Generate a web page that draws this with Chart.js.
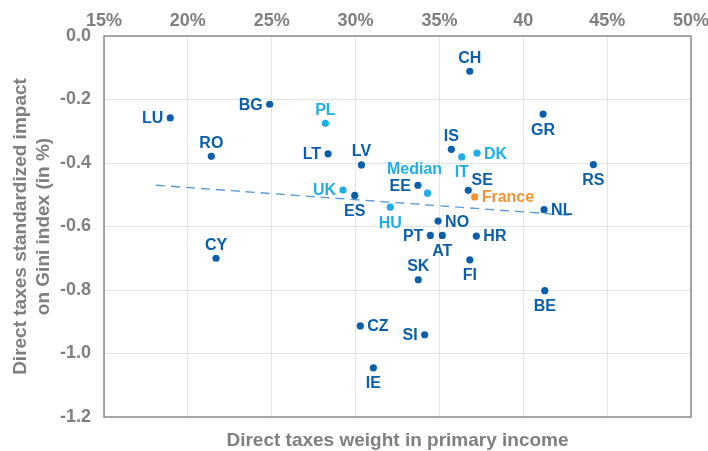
<!DOCTYPE html>
<html>
<head>
<meta charset="utf-8">
<script src="https://cdn.jsdelivr.net/npm/chart.js@4/dist/chart.umd.min.js"></script>
<style>
  html, body { margin: 0; padding: 0; background: #fff; }
  #wrap { width: 708px; height: 451px; }
</style>
</head>
<body>
<div id="wrap"><canvas id="myChart"></canvas></div>
<script>

const countries  = ['LU', 'BG', 'PL', 'RO', 'LT', 'LV', 'UK', 'ES', 'HU', 'CH', 'GR', 'IS', 'IT', 'DK', 'RS',
                    'EE', 'Median', 'SE', 'France', 'NL', 'NO', 'PT', 'AT', 'HR', 'FI', 'SK', 'BE', 'SI', 'CY', 'CZ', 'IE'];
const taxWeight  = [18.95, 24.88, 28.2, 21.4, 28.36, 30.35, 29.25, 29.95, 32.07, 36.81, 41.18, 35.71, 36.33, 37.24, 44.18,
                    33.72, 34.29, 36.72, 37.1, 41.24, 34.92, 34.46, 35.17, 37.2, 36.81, 33.74, 41.28, 34.12, 21.68, 30.28, 31.06];
const giniImpact = [-0.258, -0.215, -0.275, -0.379, -0.371, -0.406, -0.485, -0.502, -0.539, -0.111, -0.246, -0.357, -0.381, -0.369, -0.405,
                    -0.470, -0.495, -0.486, -0.507, -0.547, -0.583, -0.628, -0.628, -0.630, -0.705, -0.768, -0.802, -0.941, -0.700, -0.913, -1.045];
const highlighted = ['PL', 'UK', 'HU', 'IT', 'DK', 'Median'];
const trendX = [18.1, 42.9];
const trendY = [-0.470, -0.565];
const xTickLabels = ['15%', '20%', '25%', '30%', '35%', '40', '45%', '50%'];

// where each label sits around its dot: l, r, t, b or [dx, dy]
const labelPos = {
    LU: 'l', BG: 'l', PL: 't', RO: 't', LT: 'l', LV: 't', UK: 'l', ES: 'b', HU: 'b',
    CH: 't', GR: 'b', IS: 't', IT: 'b', DK: 'r', RS: 'b', EE: 'l', Median: [-13, -25],
    SE: [14, -11], France: 'r', NL: 'r', NO: 'r', PT: 'l', AT: 'b', HR: 'r', FI: 'b',
    SK: 't', BE: 'b', SI: 'l', CY: 't', CZ: 'r', IE: 'b'
};

const DARK = '#0B5FAA';
const LIGHT = '#1FAEE8';
const ORANGE = '#F39434';
const GREY = '#7F7F7F';
const FONT = '"Liberation Sans", Arial, sans-serif';

function pointsFor(test) {
    const pts = [];
    countries.forEach((c, i) => {
        if (test(c)) pts.push({ x: taxWeight[i], y: giniImpact[i], name: c });
    });
    return pts;
}

const pointLabels = {
    id: 'pointLabels',
    afterDatasetsDraw(chart) {
        const ctx = chart.ctx;
        ctx.save();
        ctx.font = 'bold 16px ' + FONT;
        ctx.textBaseline = 'middle';
        chart.data.datasets.forEach((ds, i) => {
            if (ds.type === 'line') return;
            chart.getDatasetMeta(i).data.forEach((el, j) => {
                const name = ds.data[j].name;
                const pos = labelPos[name] || 'r';
                let x = el.x, y = el.y;
                ctx.fillStyle = ds.backgroundColor;
                if (Array.isArray(pos)) {
                    ctx.textAlign = 'center';
                    x += pos[0]; y += pos[1];
                } else if (pos === 'l') {
                    ctx.textAlign = 'right'; x -= 7;
                } else if (pos === 'r') {
                    ctx.textAlign = 'left'; x += 7;
                } else if (pos === 't') {
                    ctx.textAlign = 'center'; y -= 14;
                } else {
                    ctx.textAlign = 'center'; y += 15;
                }
                ctx.fillText(name, x, y + 1);
            });
        });
        ctx.restore();
    }
};

const frame = {
    id: 'frame',
    afterDraw(chart) {
        const a = chart.chartArea;
        const ctx = chart.ctx;
        ctx.save();
        ctx.strokeStyle = '#8C8C8C';
        ctx.lineWidth = 1.5;
        ctx.strokeRect(a.left, a.top, a.right - a.left, a.bottom - a.top);
        ctx.restore();
    }
};

const data = {
    datasets: [
        {
            type: 'line',
            data: trendX.map((x, i) => ({ x, y: trendY[i] })),
            borderColor: '#5B9BD5',
            borderWidth: 1.4,
            borderDash: [9, 6],
            pointRadius: 0,
            fill: false
        },
        {
            data: pointsFor(c => !highlighted.includes(c) && c !== 'France'),
            backgroundColor: DARK,
            borderWidth: 0,
            pointRadius: 3.6
        },
        {
            data: pointsFor(c => highlighted.includes(c)),
            backgroundColor: LIGHT,
            borderWidth: 0,
            pointRadius: 3.6
        },
        {
            data: pointsFor(c => c === 'France'),
            backgroundColor: ORANGE,
            borderWidth: 0,
            pointRadius: 3.6
        }
    ]
};

const config = {
    type: 'scatter',
    data,
    options: {
        responsive: true,
        maintainAspectRatio: false,
        animation: false,
        layout: { padding: { left: 0, right: 17, top: 0, bottom: 0 } },
        plugins: {
            legend: { display: false },
            tooltip: { enabled: false }
        },
        scales: {
            x: {
                type: 'linear',
                position: 'top',
                min: 15,
                max: 50,
                ticks: {
                    stepSize: 5,
                    color: GREY,
                    font: { family: FONT, size: 18, weight: 'bold' },
                    padding: 4,
                    callback: (v, i) => xTickLabels[i]
                },
                grid: { color: '#E3E3E3', drawTicks: false },
                border: { display: false },
                afterFit: s => { s.height = 36; s.paddingRight = 0; s.paddingLeft = 0; }
            },
            // bottom axis only carries the x title
            x2: {
                type: 'linear',
                position: 'bottom',
                min: 15,
                max: 50,
                ticks: { display: false },
                grid: { display: false, drawTicks: false },
                border: { display: false },
                title: {
                    display: true,
                    text: 'Direct taxes weight in primary income',
                    color: GREY,
                    font: { family: FONT, size: 19, weight: 'bold', lineHeight: 1.05 },
                    padding: { top: 0, bottom: 0 }
                },
                afterFit: s => { s.height = 34; s.paddingRight = 0; s.paddingLeft = 0; }
            },
            y: {
                min: -1.2,
                max: 0,
                ticks: {
                    stepSize: 0.2,
                    color: GREY,
                    font: { family: FONT, size: 18, weight: 'bold' },
                    padding: 13,
                    callback: v => v.toFixed(1)
                },
                title: {
                    display: true,
                    text: ['Direct taxes standardized impact', 'on Gini index (in %)'],
                    color: GREY,
                    font: { family: FONT, size: 19, weight: 'bold', lineHeight: 1.22 },
                    padding: { top: 9, bottom: 0 }
                },
                grid: { color: '#E3E3E3', drawTicks: false },
                border: { display: false },
                afterFit: s => { s.width = 104; }
            }
        }
    },
    plugins: [pointLabels, frame]
};

const myChart = new Chart(document.getElementById('myChart'), config);
</script>
</body>
</html>
